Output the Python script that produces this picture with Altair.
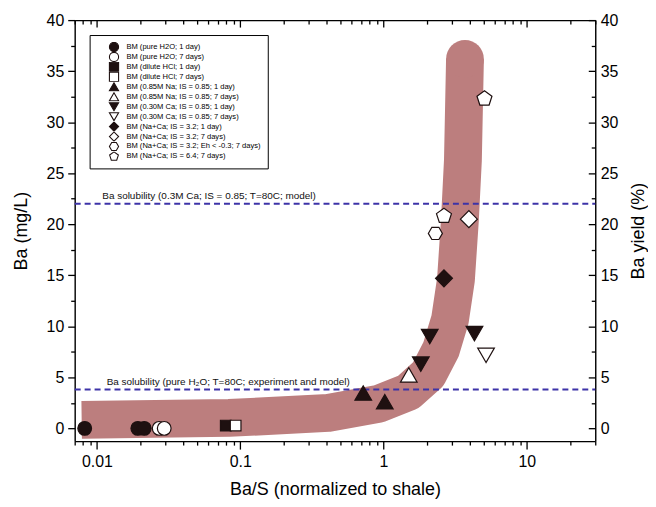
import altair as alt
import pandas as pd

FONT = "Liberation Sans"
BAND = "#bc7e7e"
DASH = "#3d33a8"
INK = "#1e1010"

# ---------------- data ----------------
series = [
    "BM (pure H2O; 1 day)",
    "BM (pure H2O; 7 days)",
    "BM (dilute HCl; 1 day)",
    "BM (dilute HCl; 7 days)",
    "BM (0.85M Na; IS = 0.85; 1 day)",
    "BM (0.85M Na; IS = 0.85; 7 days)",
    "BM (0.30M Ca; IS = 0.85; 1 day)",
    "BM (0.30M Ca; IS = 0.85; 7 days)",
    "BM (Na+Ca; IS = 3.2; 1 day)",
    "BM (Na+Ca; IS = 3.2; 7 days)",
    "BM (Na+Ca; IS = 3.2; Eh < -0.3; 7 days)",
    "BM (Na+Ca; IS = 6.4; 7 days)",
]
PENTAGON = "M0,-1L0.951,-0.309L0.588,0.809L-0.588,0.809L-0.951,-0.309Z"
HEXAGON = "M1,0L0.5,0.866L-0.5,0.866L-1,0L-0.5,-0.866L0.5,-0.866Z"
shapes = ["circle", "circle", "square", "square", "triangle-up", "triangle-up",
          "triangle-down", "triangle-down", "diamond", "diamond", HEXAGON, PENTAGON]
fills = [INK, "white", INK, "white", INK, "white", INK, "white", INK, "white", "white", "white"]
strokes = [INK] * len(series)
sizes = [190, 190, 115, 115, 280, 280, 280, 280, 290, 290, 200, 250]

pt_series = [0, 0, 0, 1, 1, 2, 3, 4, 4, 5, 6, 6, 6, 7, 8, 9, 10, 11, 11]
pt_x = [0.00822, 0.0193, 0.0214, 0.0272, 0.0295, 0.0793, 0.0929,
        0.722, 1.02, 1.50, 1.82, 2.10, 4.31, 5.19,
        2.64, 3.94, 2.30, 5.06, 2.64]
pt_y = [0.0, 0.0, 0.0, 0.0, 0.0, 0.27, 0.27,
        3.46, 2.61, 5.24, 6.29, 8.99, 9.28, 7.16,
        14.7, 20.5, 19.1, 32.3, 20.8]

band_x = [0.00783, 0.0835, 0.413, 0.918, 1.49, 2.05, 2.52, 2.91, 3.20, 3.41, 3.58, 3.70]
band_y = [0.83, 1.02, 1.51, 2.39, 3.56, 5.31, 7.75, 10.67, 14.57, 20.4, 26.3, 36.2]

line_y = [22.0, 3.8]
line_labels = ["Ba solubility (0.3M Ca; IS = 0.85; T=80C; model)",
               "Ba solubility (pure H\u2082O; T=80C; experiment and model)"]
label_x = [0.0109, 0.0117]

x_major = [0.01, 0.1, 1, 10]
x_minor = [0.007, 0.008, 0.009, 0.02, 0.03, 0.04, 0.05, 0.06, 0.07, 0.08, 0.09,
           0.2, 0.3, 0.4, 0.5, 0.6, 0.7, 0.8, 0.9, 2, 3, 4, 5, 6, 7, 8, 9, 20, 30]
y_major = [0, 5, 10, 15, 20, 25, 30, 35, 40]
y_minor = [2.5, 7.5, 12.5, 17.5, 22.5, 27.5, 32.5, 37.5]

W, H = 523, 423

pts = pd.DataFrame({"series": [series[i] for i in pt_series], "x": pt_x, "y": pt_y,
                    "sz": [sizes[i] for i in pt_series]})
band = pd.DataFrame({"x": band_x, "y": band_y, "i": list(range(len(band_x)))})
lines = pd.DataFrame({"y": line_y, "label": line_labels, "x": label_x})

XS = alt.Scale(type="log", domain=[0.007, 30], nice=False)
YS = alt.Scale(domain=[-1.25, 40], nice=False, zero=False)

common = dict(grid=False, domainColor="black", tickColor="black", domainWidth=1.4,
              tickWidth=1.3, labelFont=FONT, titleFont=FONT, labelColor="black",
              titleColor="black", titleFontWeight="normal", labelFlush=False,
              labelOverlap=False, minExtent=0)

ax_x_main = alt.Axis(orient="bottom", values=x_major, format="~g",
                     title="Ba/S (normalized to shale)",
                     tickSize=8, labelFontSize=16, titleFontSize=18, labelPadding=4,
                     titlePadding=12, **common)
ax_y_main = alt.Axis(orient="left", values=y_major, format="d", title="Ba (mg/L)", tickSize=7,
                     labelFontSize=16, titleFontSize=18, labelPadding=4,
                     titlePadding=16, **common)

XN = alt.X("x:Q", scale=XS, axis=None)
YN = alt.Y("y:Q", scale=YS, axis=None)

band_line = alt.Chart(band).mark_line(strokeWidth=38, strokeCap="butt", strokeJoin="round",
                                      color=BAND).encode(
    x=alt.X("x:Q", scale=XS, axis=ax_x_main),
    y=alt.Y("y:Q", scale=YS, axis=ax_y_main),
    order="i:Q")
band_cap = alt.Chart(band).transform_filter(alt.datum.i == len(band_x) - 1).mark_point(
    shape="circle", filled=True, size=38 * 38, color=BAND, opacity=1, strokeWidth=0).encode(
    x=XN, y=YN)
rules = alt.Chart(lines).mark_rule(strokeDash=[6, 4], strokeWidth=2, color=DASH).encode(
    x=alt.value(0), x2=alt.value(W), y=YN)
texts = alt.Chart(lines).mark_text(align="left", baseline="alphabetic", dy=-5, fontSize=10,
                                   font=FONT, color="#111").encode(x=XN, y=YN, text="label:N")

leg = alt.Legend(title=None, orient="top-left", offset=15, symbolSize=85, clipHeight=10,
                 rowPadding=0, labelFontSize=7.6, labelFont=FONT, labelColor="black",
                 padding=7, symbolOffset=12, labelOffset=7, strokeColor="black",
                 fillColor="white", symbolStrokeWidth=1.1, labelLimit=400)
points = alt.Chart(pts).mark_point(filled=True, opacity=1, strokeWidth=1.2).encode(
    x=XN, y=YN,
    shape=alt.Shape("series:N", scale=alt.Scale(domain=series, range=shapes), legend=leg),
    fill=alt.Fill("series:N", scale=alt.Scale(domain=series, range=fills), legend=leg),
    stroke=alt.Stroke("series:N", scale=alt.Scale(domain=series, range=strokes), legend=leg),
    size=alt.Size("sz:Q", scale=None),
)


def axis_layer(xaxis, yaxis):
    return alt.Chart(band).mark_point(opacity=0).encode(
        x=alt.X("x:Q", scale=XS, axis=xaxis),
        y=alt.Y("y:Q", scale=YS, axis=yaxis),
    )


noLab = dict(labels=False, title=None, **common)
minor_out = axis_layer(
    alt.Axis(orient="bottom", values=x_minor, tickSize=4, domain=False, **noLab),
    alt.Axis(orient="left", values=y_minor, tickSize=4, domain=False, **noLab))
major_in = axis_layer(
    alt.Axis(orient="bottom", offset=-H, values=x_major, tickSize=7, **noLab),
    alt.Axis(orient="left", offset=-W, values=y_major, tickSize=7, **noLab))
minor_in = axis_layer(
    alt.Axis(orient="bottom", offset=-H, values=x_minor, tickSize=4, domain=False, **noLab),
    alt.Axis(orient="left", offset=-W, values=y_minor, tickSize=4, domain=False, **noLab))
right_lab = axis_layer(None,
                       alt.Axis(orient="right", values=y_major, format="d", ticks=False,
                                domain=False, title="Ba yield (%)", titleAngle=270,
                                titleBaseline="top", labelFontSize=16, titleFontSize=18,
                                labelPadding=5, titlePadding=12, **common))

chart = alt.layer(
    band_line, band_cap, rules, texts, points, minor_out, major_in, minor_in, right_lab
).resolve_scale(
    x="independent", y="independent"
).properties(
    width=W, height=H, padding={"left": 4, "top": 3, "right": 0, "bottom": 2}
).configure_view(stroke=None).configure(font=FONT)

chart.save("out.html", embed_options={"renderer": "svg", "actions": False})
